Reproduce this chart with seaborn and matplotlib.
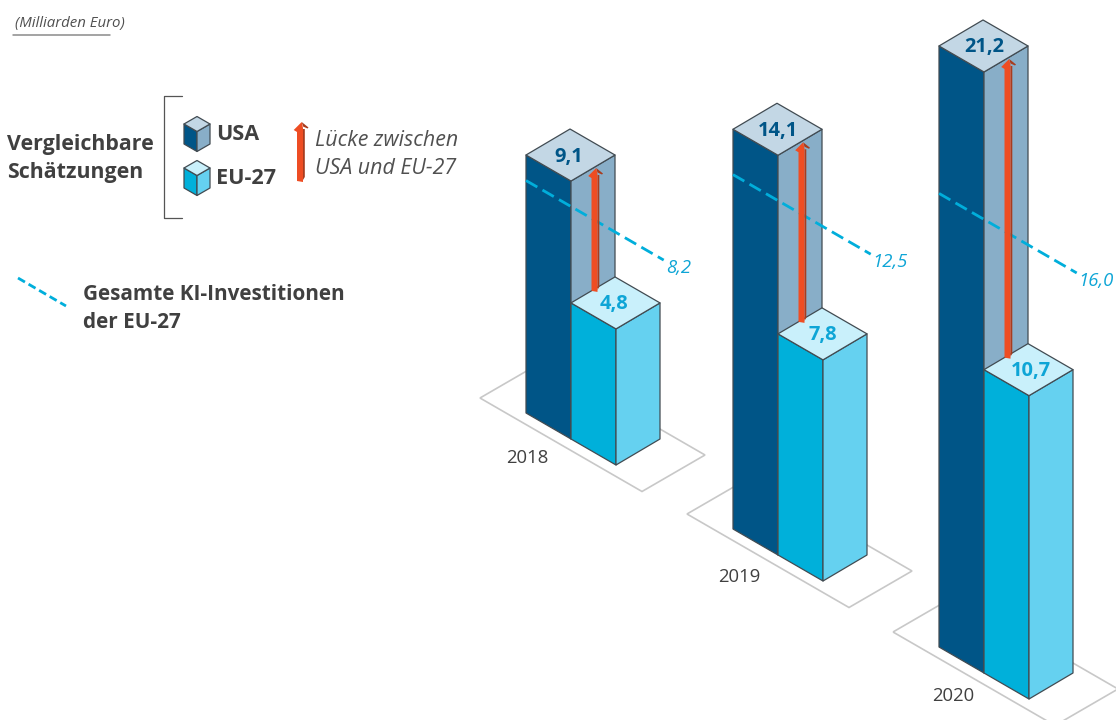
import matplotlib
matplotlib.use("Agg")
import matplotlib.pyplot as plt
import pandas as pd
import seaborn as sns

# Investment figures, billions of euro
years = ["2018", "2019", "2020"]
usa_values = [9.1, 14.1, 21.2]
eu_values = [4.8, 7.8, 10.7]
eu_total_values = [8.2, 12.5, 16.0]

# Isometric layout, in figure pixels
UNIT = 28.35
EDGE_A = (45, 26)
EDGE_B = (44, -26)
ANCHORS = [(616, 465), (823, 581), (1029, 699)]
YEAR_SPOTS = [(527.5, 463), (739.5, 582), (953.5, 701)]
USA_NUDGE = [-2, 0.5, 1]
EU_NUDGE = [-1, 0, 2]

USA_SIDE, USA_RIGHT, USA_TOP = "#005587", "#88aec8", "#c3d7e5"
EU_SIDE, EU_RIGHT, EU_TOP = "#00b0da", "#65d1f0", "#c9f0fb"
OUTLINE = "#414b52"
DASH = "#00aedb"
ARROW, ARROW_DARK = "#ee4d23", "#a83c1e"
INK = "#404040"
ITALIC_INK = "#505050"
PLATE = "#c8c8c8"
VALUE_BLUE = "#0ea5d6"
FONT = "Open Sans"

sns.set_theme(style="white", rc={"font.family": FONT})
fig, ax = plt.subplots(figsize=(11.16, 7.2), dpi=100)
fig.subplots_adjust(0, 0, 1, 1)
ax.set_xlim(0, 1116)
ax.set_ylim(720, 0)
ax.set_axis_off()


def px(points_px):
    return points_px * 0.72


def shift(p, a=0.0, b=0.0, h=0.0):
    return (p[0] + a * EDGE_A[0] + b * EDGE_B[0], p[1] + a * EDGE_A[1] + b * EDGE_B[1] - h)


def face(points, color, z):
    xs, ys = zip(*points)
    ax.fill(xs, ys, facecolor=color, edgecolor=OUTLINE, linewidth=0.9, joinstyle="round", zorder=z)


def prism(front, height, a, b, side, right, top, z):
    """Box with its nearest bottom corner at `front`; a and b are the footprint vectors."""
    left = (front[0] - a[0], front[1] - a[1])
    rgt = (front[0] + b[0], front[1] + b[1])
    up = lambda p: (p[0], p[1] - height)
    back = (left[0] + b[0], left[1] + b[1])
    face([left, front, up(front), up(left)], side, z)
    face([front, rgt, up(rgt), up(front)], right, z)
    face([up(left), up(front), up(rgt), up(back)], top, z)


def arrow(x, y_low, y_high, z, half=3.0):
    # shaded side of the shaft and the far wing of the head
    ax.fill([x + half, x + half + 1.8, x + half + 1.8, x + half],
            [y_low - 1, y_low - 4, y_high + 7, y_high + 7],
            color=ARROW_DARK, linewidth=0, zorder=z)
    ax.fill([x + 1.7, x + 8.5, x + 7.5, x + half],
            [y_high, y_high + 5.5, y_high + 6.5, y_high + 4.5],
            color=ARROW_DARK, linewidth=0, zorder=z)
    # lit shaft and near wing
    ax.fill([x - half, x + half, x + half, x + 1.7, x - 6.3, x - half],
            [y_low, y_low + 1, y_high + 6, y_high, y_high + 8, y_high + 10],
            color=ARROW, linewidth=0, zorder=z + 1)


# Ground plates sit under everything else
for anchor in ANCHORS:
    corners = [(-136, -67), (26, 26.5), (89, -10), (-73, -103.5), (-136, -67)]
    plate = pd.DataFrame({"x": [anchor[0] + c[0] for c in corners], "y": [anchor[1] + c[1] for c in corners]})
    ax.fill(plate.x, plate.y, facecolor="none", edgecolor=PLATE, linewidth=1.2, zorder=1)

for i, anchor in enumerate(ANCHORS):
    base = 2 + i * 10
    usa_front = shift(anchor, a=-1)
    prism(usa_front, usa_values[i] * UNIT, EDGE_A, EDGE_B, USA_SIDE, USA_RIGHT, USA_TOP, base)
    prism(anchor, eu_values[i] * UNIT, EDGE_A, EDGE_B, EU_SIDE, EU_RIGHT, EU_TOP, base + 1)

    # Total EU-27 investment runs across the bars from the left corner of the USA box
    start = shift(anchor, a=-2, h=eu_total_values[i] * UNIT)
    end = shift(start, a=3.06)
    sns.lineplot(x=[start[0], end[0]], y=[start[1], end[1]], ax=ax, color=DASH, linewidth=2.0,
                 linestyle=(0, (4.7, 2.15)), sort=False, estimator=None, zorder=base + 2)
    ax.text(end[0] + 2, end[1] + 13, f"{eu_total_values[i]:.1f}".replace(".", ","), color=VALUE_BLUE,
            fontsize=px(18.5), style="italic", ha="left", va="baseline", zorder=base + 5)

    # Gap arrow climbs the middle of the USA right face
    foot = shift(anchor, a=-1, b=0.5)
    arrow(foot[0] + 1.5, foot[1] - eu_values[i] * UNIT + 1, foot[1] - usa_values[i] * UNIT, base + 3)

    usa_top_centre = shift(anchor, a=-1.5, b=0.5, h=usa_values[i] * UNIT)
    eu_top_centre = shift(anchor, a=-0.5, b=0.5, h=eu_values[i] * UNIT)
    ax.text(usa_top_centre[0] + USA_NUDGE[i], usa_top_centre[1] + 6.5, f"{usa_values[i]:.1f}".replace(".", ","),
            color=USA_SIDE, fontsize=px(20), fontweight="bold", ha="center", va="baseline", zorder=base + 6)
    ax.text(eu_top_centre[0] + EU_NUDGE[i], eu_top_centre[1] + 6.5, f"{eu_values[i]:.1f}".replace(".", ","),
            color=VALUE_BLUE, fontsize=px(20), fontweight="bold", ha="center", va="baseline", zorder=base + 6)
    ax.text(YEAR_SPOTS[i][0], YEAR_SPOTS[i][1], years[i], color=INK, fontsize=px(18.5),
            ha="center", va="baseline", zorder=base + 6)

# Unit note
ax.text(15, 27, "(Milliarden Euro)", color=ITALIC_INK, fontsize=px(15), style="italic", ha="left", va="baseline")
ax.plot([13, 110], [35, 35], color="#8a8a8a", linewidth=1.1)

# Key
ax.plot([182, 164, 164, 182], [96, 96, 218, 218], color="#555555", linewidth=0.9)
ax.text(7, 150, "Vergleichbare", color=INK, fontsize=px(21.4), fontweight="bold", va="baseline")
ax.text(7, 178, "Schätzungen", color=INK, fontsize=px(21.4), fontweight="bold", va="baseline")
prism((197, 151.5), 20, (13, 7.5), (13, -7.5), USA_SIDE, USA_RIGHT, USA_TOP, 50)
prism((197, 195.5), 20, (13, 7.5), (13, -7.5), EU_SIDE, EU_RIGHT, EU_TOP, 50)
ax.text(216, 140, "USA", color=INK, fontsize=px(21.6), fontweight="bold", va="baseline")
ax.text(216, 184, "EU-27", color=INK, fontsize=px(21.6), fontweight="bold", va="baseline")
arrow(300, 181, 122, 50)
ax.text(315, 146, "Lücke zwischen", color=ITALIC_INK, fontsize=px(21.4), style="italic", va="baseline")
ax.text(315, 174, "USA und EU-27", color=ITALIC_INK, fontsize=px(21.4), style="italic", va="baseline")
sns.lineplot(x=[18, 66], y=[278, 306], ax=ax, color=DASH, linewidth=2.0, linestyle=(0, (2.9, 1.5)),
             sort=False, estimator=None)
ax.text(83, 300, "Gesamte KI-Investitionen", color=INK, fontsize=px(20.8), fontweight="bold", va="baseline")
ax.text(83, 328, "der EU-27", color=INK, fontsize=px(20.8), fontweight="bold", va="baseline")

ax.set_xlim(0, 1116)
ax.set_ylim(720, 0)
fig.savefig("out.png", dpi=100)
